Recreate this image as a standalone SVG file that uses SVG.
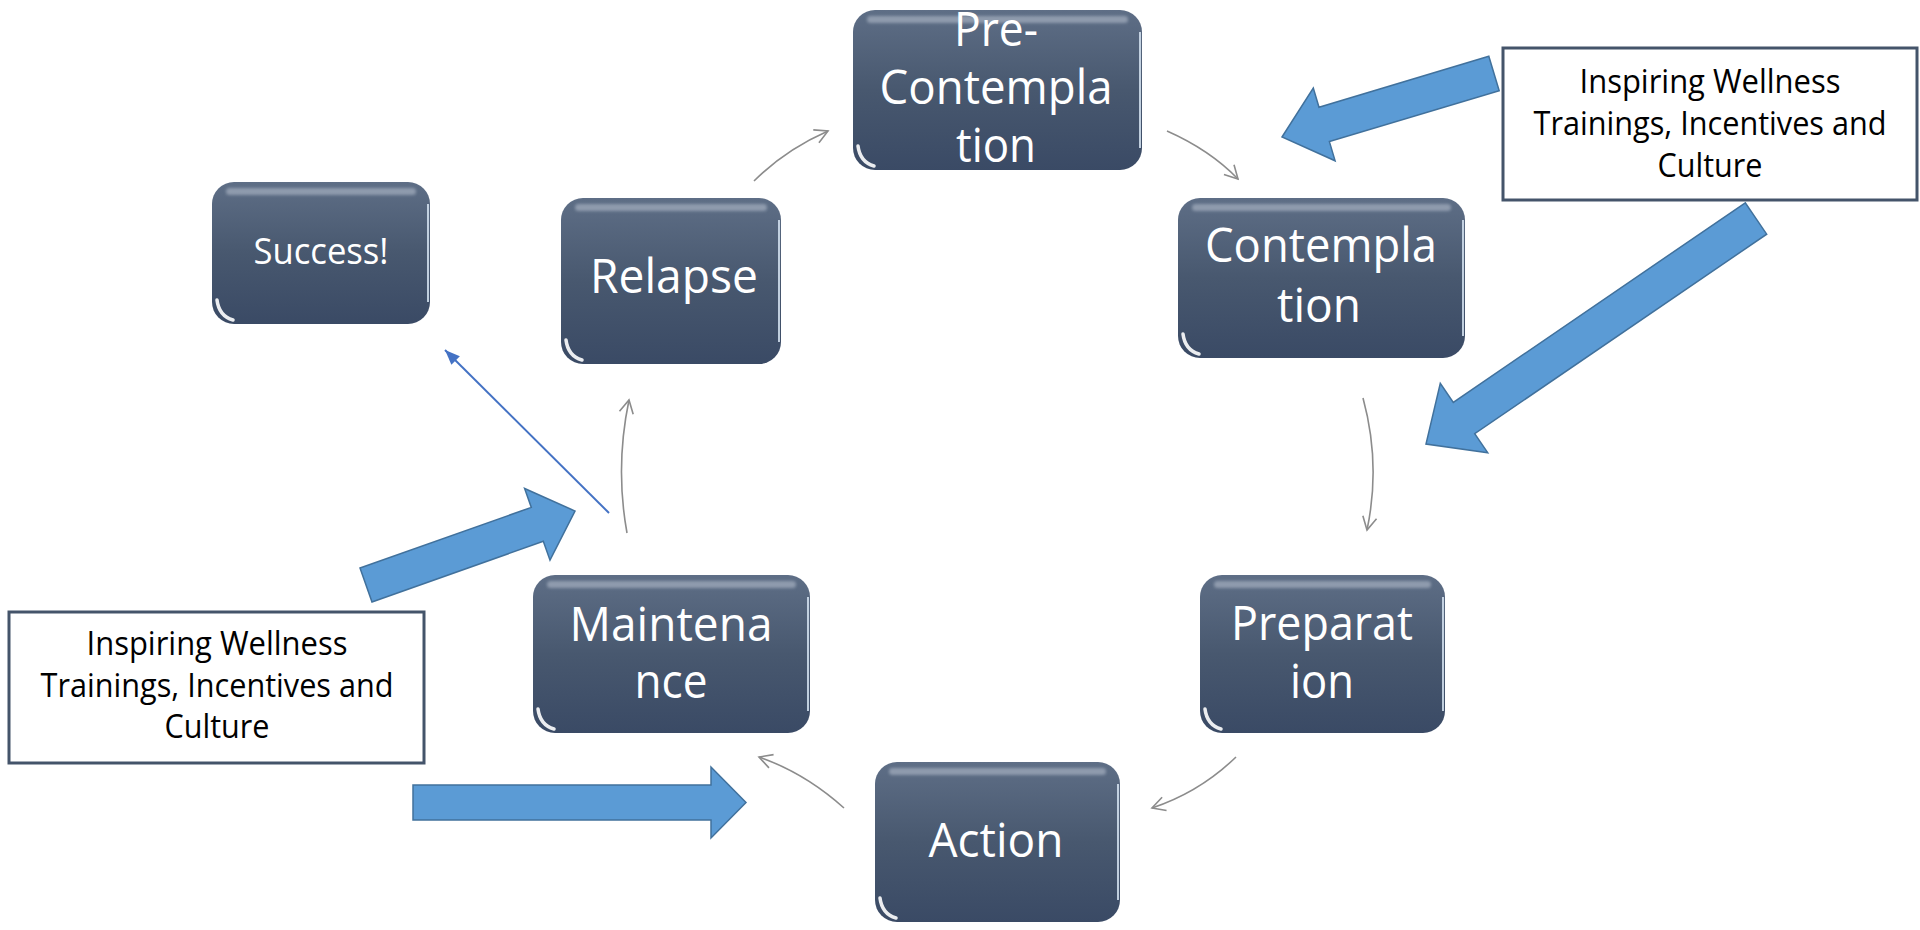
<svg xmlns="http://www.w3.org/2000/svg" width="1920" height="930" viewBox="0 0 1920 930">
  <style>
    .node { fill: url(#nodeGrad); }
    .gloss { fill: #C2CBD8; opacity: 0.5; filter: url(#soft); }
    .edge { fill: none; stroke: #D6E4F2; stroke-width: 2; opacity: 0.85; }
    .glint { fill: none; stroke: #FFFFFF; stroke-width: 3.5; stroke-linecap: round; opacity: 0.9; filter: url(#soft1); }
    .lbl { font-family: "Open Sans", "Noto Sans", "Liberation Sans", sans-serif; fill: #FFFFFF; text-anchor: middle; }
    .big { font-size: 47px; }
    .note { fill: #FFFFFF; stroke: #44546A; stroke-width: 3; }
    .ntxt { font-family: "Open Sans", "Noto Sans", "Liberation Sans", sans-serif; font-size: 33px; fill: #000000; text-anchor: middle; }
    .conn { fill: none; stroke: #8C8C8C; stroke-width: 1.6; marker-end: url(#openHead); }
    .blk { fill: #5B9BD5; stroke: #41719C; stroke-width: 1.5; stroke-linejoin: miter; }
    .blue { fill: none; stroke: #4472C4; stroke-width: 2; marker-end: url(#blueHead); }
  </style>
  <defs>
    <linearGradient id="nodeGrad" x1="0" y1="0" x2="0" y2="1">
      <stop offset="0" stop-color="#5E6E86"/>
      <stop offset="0.5" stop-color="#48586F"/>
      <stop offset="1" stop-color="#3A4A65"/>
    </linearGradient>
    <filter id="soft" x="-10%" y="-100%" width="120%" height="300%">
      <feGaussianBlur stdDeviation="1.8"/>
    </filter>
    <filter id="soft1" x="-50%" y="-50%" width="200%" height="200%">
      <feGaussianBlur stdDeviation="0.7"/>
    </filter>
    <marker id="openHead" markerUnits="userSpaceOnUse" viewBox="-15 -10 17 20" markerWidth="17" markerHeight="20" refX="0" refY="0" orient="auto">
      <path d="M-13,-7 L0,0 L-13,7" fill="none" stroke="#8C8C8C" stroke-width="1.6"/>
    </marker>
    <marker id="blueHead" markerUnits="userSpaceOnUse" viewBox="-16 -8 18 16" markerWidth="18" markerHeight="16" refX="0" refY="0" orient="auto">
      <path d="M-15,-6 L0,0 L-15,6 Z" fill="#4472C4"/>
    </marker>
  </defs>

  <rect x="0" y="0" width="1920" height="930" fill="#FFFFFF"/>

  <g id="connectors">
    <path class="conn" d="M754,181 Q785,150 828,131"/>
    <path class="conn" d="M1167,131 Q1210,150 1238,179"/>
    <path class="conn" d="M1363,398 Q1381,464 1367,530"/>
    <path class="conn" d="M1236,757 Q1200,792 1152,808"/>
    <path class="conn" d="M844,808 Q805,773 759,757"/>
    <path class="conn" d="M627,533 Q615,467 629,400"/>
    <path class="blue" d="M609,513 L445,350"/>
    <polygon class="blk" points="1488.8,56.3 1319.0,107.2 1313.3,88.0 1282,137 1335.1,160.8 1329.4,141.6 1499.2,90.7"/>
    <polygon class="blk" points="1745.3,202.8 1453.3,402.4 1440.3,383.4 1426,444 1487.7,452.7 1474.7,433.7 1766.7,234.2"/>
    <polygon class="blk" points="372.0,602.0 543.3,541.3 550.0,560.2 575,511 524.6,488.5 531.3,507.4 360.0,568.0"/>
    <polygon class="blk" points="413,785 711,785 711,767 746,802.5 711,838 711,820 413,820"/>
  </g>

  <g id="n-success">
    <rect class="node" x="212" y="182" width="218" height="142" rx="22"/>
    <rect class="gloss" x="226" y="188" width="190" height="7" rx="3.5"/>
    <path class="edge" d="M428,204 V302"/>
    <path class="glint" d="M217,300 Q219,316 233,320"/>
    <text class="lbl" x="321" y="264" font-size="36" textLength="135" lengthAdjust="spacingAndGlyphs">Success!</text>
  </g>

  <g id="n-relapse">
    <rect class="node" x="561" y="198" width="220" height="166" rx="22"/>
    <rect class="gloss" x="575" y="204" width="192" height="7" rx="3.5"/>
    <path class="edge" d="M779,220 V342"/>
    <path class="glint" d="M566,340 Q568,356 582,360"/>
    <text class="lbl big" x="674" y="293" textLength="168" lengthAdjust="spacingAndGlyphs">Relapse</text>
  </g>

  <g id="n-precontemplation">
    <rect class="node" x="853" y="10" width="289" height="160" rx="22"/>
    <rect class="gloss" x="867" y="16" width="261" height="7" rx="3.5"/>
    <path class="edge" d="M1140,32 V148"/>
    <path class="glint" d="M858,146 Q860,162 874,166"/>
    <text class="lbl big" x="996" y="46" textLength="84" lengthAdjust="spacingAndGlyphs">Pre-</text>
    <text class="lbl big" x="996" y="104" textLength="233" lengthAdjust="spacingAndGlyphs">Contempla</text>
    <text class="lbl big" x="996" y="162" textLength="80" lengthAdjust="spacingAndGlyphs">tion</text>
  </g>

  <g id="n-contemplation">
    <rect class="node" x="1178" y="198" width="287" height="160" rx="22"/>
    <rect class="gloss" x="1192" y="204" width="259" height="7" rx="3.5"/>
    <path class="edge" d="M1463,220 V336"/>
    <path class="glint" d="M1183,334 Q1185,350 1199,354"/>
    <text class="lbl big" x="1321" y="262" textLength="232" lengthAdjust="spacingAndGlyphs">Contempla</text>
    <text class="lbl big" x="1319" y="322" textLength="84" lengthAdjust="spacingAndGlyphs">tion</text>
  </g>

  <g id="n-preparation">
    <rect class="node" x="1200" y="575" width="245" height="158" rx="22"/>
    <rect class="gloss" x="1214" y="581" width="217" height="7" rx="3.5"/>
    <path class="edge" d="M1443,597 V711"/>
    <path class="glint" d="M1205,709 Q1207,725 1221,729"/>
    <text class="lbl big" x="1322" y="640" textLength="182" lengthAdjust="spacingAndGlyphs">Preparat</text>
    <text class="lbl big" x="1322" y="698" textLength="64" lengthAdjust="spacingAndGlyphs">ion</text>
  </g>

  <g id="n-action">
    <rect class="node" x="875" y="762" width="245" height="160" rx="22"/>
    <rect class="gloss" x="889" y="768" width="217" height="7" rx="3.5"/>
    <path class="edge" d="M1118,784 V900"/>
    <path class="glint" d="M880,898 Q882,914 896,918"/>
    <text class="lbl big" x="996" y="857" textLength="135" lengthAdjust="spacingAndGlyphs">Action</text>
  </g>

  <g id="n-maintenance">
    <rect class="node" x="533" y="575" width="277" height="158" rx="22"/>
    <rect class="gloss" x="547" y="581" width="249" height="7" rx="3.5"/>
    <path class="edge" d="M808,597 V711"/>
    <path class="glint" d="M538,709 Q540,725 554,729"/>
    <text class="lbl big" x="671" y="641" textLength="203" lengthAdjust="spacingAndGlyphs">Maintena</text>
    <text class="lbl big" x="671" y="698" textLength="73" lengthAdjust="spacingAndGlyphs">nce</text>
  </g>

  <g id="n-note-right">
    <rect class="note" x="1503" y="48" width="414" height="152"/>
    <text class="ntxt" x="1710" y="93" textLength="261" lengthAdjust="spacingAndGlyphs">Inspiring Wellness</text>
    <text class="ntxt" x="1710" y="135" textLength="353" lengthAdjust="spacingAndGlyphs">Trainings, Incentives and</text>
    <text class="ntxt" x="1710" y="177" textLength="105" lengthAdjust="spacingAndGlyphs">Culture</text>
  </g>

  <g id="n-note-left">
    <rect class="note" x="9" y="612" width="415" height="151"/>
    <text class="ntxt" x="217" y="655" textLength="261" lengthAdjust="spacingAndGlyphs">Inspiring Wellness</text>
    <text class="ntxt" x="217" y="697" textLength="353" lengthAdjust="spacingAndGlyphs">Trainings, Incentives and</text>
    <text class="ntxt" x="217" y="738" textLength="105" lengthAdjust="spacingAndGlyphs">Culture</text>
  </g>
</svg>
